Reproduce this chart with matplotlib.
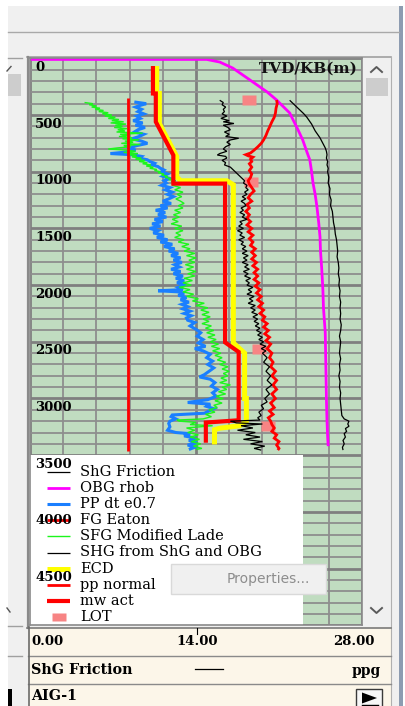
import matplotlib
matplotlib.use("Agg")
import matplotlib.pyplot as plt
import matplotlib.transforms as mtransforms
from matplotlib.patches import Rectangle, Polygon
from matplotlib.ticker import MultipleLocator

# ------------------------------------------------------------------ data
track_title = "TVD/KB(m)"
depth_ticks = [0, 500, 1000, 1500, 2000, 2500, 3000, 3500, 4000, 4500]
scale_ticks = [0.0, 14.0, 28.0]
scale_labels = ["0.00", "14.00", "28.00"]
curve_name = "ShG Friction"
curve_unit = "ppg"
well_name = "AIG-1"
menu_item = "Properties..."

pp_normal_depth = [350, 3460]
pp_normal_ppg = [8.3, 8.3]

mw_depth = [68, 310, 310, 560, 855, 1105, 1105, 2505, 2590, 3192, 3212, 3390]
mw_ppg = [10.37, 10.37, 10.61, 10.61, 12.09, 12.09, 16.45, 16.45, 17.6, 17.6, 14.83, 14.83]

ecd_depth = [68, 310, 310, 575, 865, 1045, 1080, 1080, 1115, 2510, 2600, 3000, 3000,
             3200, 3240, 3262, 3275, 3405]
ecd_ppg = [10.68, 10.68, 10.91, 10.91, 12.37, 12.37, 12.7, 16.6, 17.15, 17.15, 18.1, 18.1, 18.25,
           18.25, 17.7, 16.0, 15.56, 15.56]

obg_depth = [10, 10, 33, 86, 191, 297, 368, 482, 545, 630, 720, 810, 897, 1000, 1100, 1200,
             1311, 1450, 1576, 1700, 1850, 2037, 2200, 2416, 2700, 3007, 3200, 3333, 3420]
obg_ppg = [0.0, 14.9, 16.0, 17.1, 18.55, 20.0, 20.8, 21.9, 22.2, 22.6, 23.0, 23.3, 23.6, 23.75,
           23.87, 24.05, 24.2, 24.35, 24.46, 24.5, 24.6, 24.7, 24.75, 24.9, 24.95, 25.0, 25.05,
           25.1, 25.15]

shg_obg_depth = [370, 400, 430, 460, 490, 520, 550, 580, 610, 640, 670, 700, 730, 760, 790, 820,
                 850, 880, 910, 940, 970, 1000, 1050, 1100, 1150, 1200, 1250, 1300, 1350, 1400,
                 1450, 1500, 1550, 1600, 1650, 1700, 1750, 1800, 1850, 1900, 1950, 2000, 2050,
                 2100, 2150, 2200, 2250, 2300, 2350, 2400, 2450, 2500, 2550, 2600, 2650, 2700,
                 2750, 2800, 2850, 2900, 2950, 3000, 3050, 3100, 3150, 3180, 3200, 3225, 3245,
                 3265, 3290, 3310, 3340, 3370, 3400, 3430, 3455]
shg_obg_ppg = [21.9, 22.2, 22.5, 22.8, 23.1, 23.35, 23.55, 23.75, 23.9, 24.05, 24.25, 24.45,
               24.6, 24.75, 24.9, 25.0, 25.05, 25.0, 25.1, 25.05, 25.15, 25.1, 25.2, 25.15, 25.3,
               25.25, 25.4, 25.35, 25.5, 25.55, 25.6, 25.7, 25.75, 25.85, 25.9, 25.95, 25.9,
               26.0, 26.05, 26.0, 26.1, 26.05, 26.15, 26.1, 26.2, 26.15, 26.2, 26.15, 26.25,
               26.2, 26.1, 26.2, 26.15, 26.1, 26.2, 26.1, 26.15, 26.05, 26.15, 26.1, 26.2,
               26.15, 26.2, 26.25, 26.3, 26.5, 26.9, 26.8, 26.9, 26.6, 26.7, 26.5, 26.6, 26.4,
               26.5, 26.35, 26.4]

shg_friction_depth = [370, 390, 410, 430, 450, 470, 490, 510, 530, 550, 560, 575, 590, 610, 630,
                      650, 670, 690, 705, 720, 740, 760, 780, 800, 820, 840, 853, 865, 880, 900,
                      920, 940, 960, 980, 1000, 1020, 1040, 1060, 1080, 1100, 1120, 1140, 1160,
                      1180, 1200, 1220, 1240, 1260, 1280, 1300, 1320, 1340, 1360, 1380, 1400,
                      1420, 1440, 1460, 1480, 1500, 1520, 1540, 1560, 1580, 1600, 1620, 1640,
                      1660, 1680, 1700, 1720, 1740, 1760, 1780, 1800, 1820, 1840, 1860, 1880,
                      1900, 1920, 1940, 1960, 1980, 2000, 2020, 2040, 2060, 2080, 2100, 2120,
                      2140, 2160, 2180, 2200, 2220, 2240, 2260, 2280, 2300, 2320, 2340, 2360,
                      2380, 2400, 2420, 2440, 2460, 2480, 2500, 2520, 2540, 2560, 2580, 2600,
                      2640, 2680, 2720, 2760, 2800, 2840, 2880, 2920, 2960, 3000, 3030, 3060,
                      3090, 3120, 3150, 3170, 3190, 3200, 3215, 3225, 3240, 3260, 3280, 3300,
                      3320, 3340, 3360, 3380, 3400, 3420, 3440, 3455]
shg_friction_ppg = [16.0, 16.3, 16.2, 16.5, 16.3, 16.4, 16.2, 16.6, 16.1, 16.8, 16.3, 17.2, 16.3,
                    16.7, 16.9, 16.4, 16.8, 16.5, 17.6, 16.9, 16.6, 16.9, 16.5, 16.3, 16.6, 16.0,
                    15.8, 16.5, 16.6, 16.2, 16.5, 16.4, 16.9, 17.1, 17.3, 17.5, 17.7, 17.9, 18.1,
                    18.0, 18.3, 18.2, 18.4, 18.1, 18.3, 17.9, 18.2, 17.8, 18.1, 18.2, 17.8, 18.0,
                    17.7, 18.1, 17.9, 18.3, 17.7, 17.9, 17.6, 18.0, 17.5, 17.9, 17.7, 18.1, 17.6,
                    18.0, 17.8, 18.2, 17.9, 18.3, 17.9, 18.4, 18.0, 18.3, 17.9, 18.4, 18.1, 18.5,
                    18.0, 18.4, 18.1, 18.6, 18.2, 18.5, 18.3, 18.8, 18.4, 18.7, 18.3, 18.9, 18.5,
                    18.8, 18.4, 19.0, 18.6, 19.0, 18.7, 19.2, 18.8, 19.2, 18.9, 19.3, 19.0, 19.4,
                    19.1, 19.5, 19.2, 19.6, 19.3, 19.7, 19.4, 19.9, 19.5, 19.9, 19.6, 20.0, 19.7,
                    20.2, 19.9, 20.3, 20.0, 20.4, 19.9, 20.2, 19.8, 20.0, 19.5, 19.7, 19.3, 19.5,
                    19.2, 19.4, 16.9, 17.4, 19.6, 17.8, 18.8, 17.5, 19.0, 18.2, 19.4, 18.0, 19.6,
                    18.6, 19.8, 18.9, 19.5]

fg_eaton_depth = [368, 400, 440, 483, 520, 560, 607, 640, 680, 720, 750, 782, 810, 835, 850, 860,
                  872, 890, 910, 930, 960, 990, 1020, 1050, 1080, 1110, 1140, 1170, 1200, 1230,
                  1260, 1290, 1320, 1350, 1380, 1410, 1440, 1470, 1500, 1530, 1560, 1590, 1620,
                  1650, 1680, 1710, 1740, 1770, 1800, 1830, 1860, 1890, 1920, 1950, 1980, 2010,
                  2040, 2070, 2100, 2130, 2160, 2190, 2220, 2250, 2280, 2310, 2340, 2370, 2400,
                  2430, 2460, 2490, 2520, 2560, 2600, 2640, 2680, 2720, 2760, 2800, 2840, 2880,
                  2920, 2960, 3000, 3040, 3080, 3110, 3140, 3170, 3200, 3230, 3260, 3290, 3320,
                  3350, 3380, 3410, 3440, 3455]
fg_eaton_ppg = [20.8, 20.85, 20.75, 20.7, 20.6, 20.4, 20.2, 20.05, 19.9, 19.7, 19.5, 19.2, 18.9,
                18.6, 18.2, 18.4, 18.8, 18.6, 18.7, 18.5, 18.7, 18.5, 18.7, 18.6, 18.4, 18.5,
                18.7, 18.9, 18.6, 18.4, 18.7, 18.3, 18.5, 18.2, 18.5, 18.3, 18.6, 18.3, 18.7,
                18.4, 18.8, 18.5, 18.8, 18.6, 19.0, 18.7, 19.0, 18.7, 19.1, 18.8, 19.2, 18.9,
                19.2, 18.9, 19.3, 19.0, 19.4, 19.1, 19.5, 19.2, 19.6, 19.3, 19.7, 19.4, 19.8,
                19.6, 20.0, 19.7, 20.1, 19.8, 20.2, 19.9, 20.3, 20.0, 20.4, 20.2, 20.5, 20.3,
                20.7, 20.4, 20.8, 20.5, 20.8, 20.4, 20.7, 20.3, 20.6, 20.2, 20.5, 20.1, 20.3,
                20.4, 20.6, 20.4, 20.8, 20.6, 21.0, 20.8, 21.0, 20.9]

pp_dt_depth = [385, 400, 415, 430, 450, 470, 490, 510, 530, 550, 570, 590, 610, 630, 650, 670,
               690, 710, 730, 750, 770, 790, 810, 830, 840, 850, 865, 880, 895, 910, 925, 940,
               955, 970, 985, 1000, 1020, 1040, 1060, 1080, 1100, 1120, 1140, 1160, 1180, 1200,
               1220, 1240, 1260, 1280, 1300, 1320, 1340, 1360, 1380, 1400, 1420, 1440, 1460,
               1480, 1500, 1520, 1540, 1560, 1580, 1600, 1620, 1640, 1660, 1680, 1700, 1720,
               1740, 1760, 1780, 1800, 1820, 1840, 1860, 1880, 1900, 1920, 1940, 1960, 1980,
               2000, 2020, 2040, 2050, 2060, 2075, 2090, 2110, 2130, 2150, 2170, 2190, 2210,
               2230, 2250, 2270, 2290, 2310, 2330, 2360, 2390, 2420, 2450, 2480, 2510, 2540,
               2560, 2580, 2610, 2640, 2670, 2700, 2730, 2760, 2790, 2810, 2830, 2860, 2890,
               2920, 2950, 2980, 3010, 3035, 3050, 3070, 3090, 3110, 3130, 3145, 3160, 3180,
               3200, 3220, 3250, 3280, 3300, 3310, 3330, 3350, 3370, 3390, 3410, 3430, 3450]
pp_dt_ppg = [8.8, 9.8, 9.3, 8.9, 9.4, 9.1, 9.6, 9.0, 9.3, 8.7, 9.5, 8.9, 9.7, 9.1, 8.8, 9.6, 9.2,
             8.6, 9.4, 9.9, 9.0, 8.4, 8.9, 7.8, 6.8, 8.6, 9.4, 9.2, 9.9, 10.1, 10.5, 10.3, 10.8,
             11.0, 11.3, 11.1, 11.6, 11.2, 11.8, 11.3, 11.5, 11.1, 11.8, 11.4, 12.0, 11.6, 12.1,
             11.7, 11.2, 11.9, 11.0, 11.6, 10.6, 11.4, 10.8, 11.5, 10.5, 11.2, 10.3, 11.0, 10.1,
             10.8, 10.4, 11.3, 10.7, 11.6, 11.0, 12.0, 11.3, 12.2, 11.7, 12.5, 11.9, 12.7, 12.1,
             12.8, 12.2, 12.6, 11.9, 12.7, 12.1, 12.9, 12.3, 13.0, 12.4, 13.1, 12.5, 12.9, 10.8,
             12.6, 13.0, 12.5, 13.2, 12.7, 13.4, 12.8, 13.3, 12.9, 13.5, 13.0, 13.6, 13.2, 13.3,
             13.9, 13.5, 14.0, 14.4, 14.1, 14.6, 14.2, 14.8, 13.9, 14.6, 15.2, 14.9, 15.4, 15.0,
             15.5, 15.1, 14.7, 14.3, 15.2, 15.6, 15.3, 15.8, 15.4, 15.7, 15.0, 13.3, 15.2, 14.9,
             15.5, 15.1, 14.7, 12.0, 11.9, 12.3, 11.8, 11.7, 11.8, 11.6, 12.3, 13.5, 13.0, 14.0,
             13.4, 14.1, 13.3, 13.9, 13.4]

sfg_lade_depth = [390, 400, 410, 420, 430, 440, 450, 460, 470, 480, 490, 500, 510, 520, 530, 540,
                  550, 560, 570, 580, 590, 600, 610, 620, 630, 640, 650, 660, 670, 680, 690, 700,
                  710, 720, 730, 740, 750, 760, 770, 780, 790, 800, 810, 820, 830, 840, 850, 860,
                  870, 880, 890, 900, 910, 920, 930, 940, 950, 960, 970, 980, 990, 1000, 1010,
                  1020, 1030, 1040, 1050, 1060, 1070, 1080, 1090, 1100, 1120, 1140, 1160, 1180,
                  1200, 1220, 1240, 1260, 1280, 1300, 1320, 1340, 1360, 1380, 1400, 1420, 1440,
                  1460, 1480, 1500, 1520, 1540, 1560, 1580, 1600, 1620, 1640, 1660, 1680, 1700,
                  1720, 1740, 1760, 1780, 1800, 1820, 1840, 1860, 1880, 1900, 1920, 1940, 1960,
                  1980, 2000, 2020, 2040, 2060, 2080, 2100, 2120, 2140, 2160, 2180, 2200, 2220,
                  2240, 2260, 2280, 2300, 2320, 2340, 2360, 2380, 2400, 2420, 2440, 2460, 2480,
                  2500, 2520, 2540, 2560, 2580, 2600, 2620, 2640, 2660, 2680, 2700, 2720, 2740,
                  2760, 2780, 2800, 2820, 2840, 2860, 2880, 2900, 2920, 2940, 2960, 2980, 3000,
                  3020, 3040, 3060, 3080, 3100, 3120, 3140, 3160, 3180, 3190, 3200, 3210, 3230,
                  3240, 3260, 3280, 3300, 3320, 3340, 3360, 3380, 3400, 3420, 3440, 3450]
sfg_lade_ppg = [4.6, 5.3, 5.0, 5.6, 5.2, 5.9, 5.5, 6.2, 5.8, 6.6, 6.1, 6.9, 6.3, 7.2, 6.6, 7.5,
                6.9, 7.9, 6.8, 8.1, 7.2, 7.8, 7.1, 8.2, 7.4, 8.0, 7.3, 9.5, 7.6, 8.3, 7.5, 8.6,
                7.8, 9.2, 8.0, 8.7, 7.7, 9.3, 7.9, 8.5, 7.4, 6.6, 8.2, 8.9, 7.9, 9.1, 8.3, 9.0,
                8.6, 9.4, 8.9, 9.7, 9.2, 9.9, 9.5, 10.2, 9.8, 10.4, 10.1, 10.7, 10.5, 11.0, 10.8,
                11.3, 11.1, 11.6, 11.4, 11.9, 11.7, 12.3, 11.9, 12.4, 12.0, 12.7, 12.2, 12.9,
                12.4, 12.8, 12.3, 12.7, 13.0, 12.5, 12.9, 12.2, 12.7, 12.1, 12.6, 12.0, 12.5,
                11.9, 12.8, 12.2, 12.9, 12.3, 12.7, 12.2, 13.0, 12.5, 13.4, 12.8, 13.5, 13.0,
                13.9, 13.2, 14.0, 13.4, 13.9, 13.1, 13.8, 13.2, 14.0, 13.3, 13.9, 13.0, 13.7,
                12.9, 13.6, 12.6, 13.5, 12.9, 13.8, 13.2, 14.2, 13.7, 14.7, 14.0, 15.0, 14.4,
                15.1, 14.5, 15.2, 14.6, 15.1, 14.5, 15.3, 14.8, 15.5, 14.9, 15.6, 15.0, 15.7,
                15.2, 15.9, 15.3, 16.0, 15.4, 16.1, 15.6, 16.2, 15.8, 16.5, 16.0, 16.7, 16.2,
                16.8, 16.3, 16.7, 16.1, 16.6, 16.0, 16.9, 16.2, 16.6, 15.9, 16.5, 15.7, 16.3,
                15.6, 16.2, 15.5, 15.8, 15.1, 15.6, 14.8, 15.3, 14.6, 12.4, 12.6, 14.0, 13.5,
                15.4, 13.2, 13.9, 13.3, 14.2, 13.5, 14.3, 13.6, 14.4, 13.8, 14.5, 14.0]

lot_depth = [364, 1095, 2565, 3240]
lot_ppg = [18.45, 18.65, 19.3, 20.1]

legend_labels = ["ShG Friction", "OBG rhob", "PP dt e0.7", "FG Eaton", "SFG Modified Lade",
                 "SHG from ShG and OBG", "ECD", "pp normal", "mw act", "LOT"]

# ------------------------------------------------------------------ styles
STYLE = {
    "ShG Friction": dict(color="#000000", lw=0.9, zorder=7),
    "OBG rhob": dict(color="#ff00ff", lw=2.0, zorder=4),
    "PP dt e0.7": dict(color="#1a7fff", lw=2.2, zorder=3),
    "FG Eaton": dict(color="#ff0000", lw=2.0, zorder=6),
    "SFG Modified Lade": dict(color="#1cf51c", lw=1.0, zorder=4),
    "SHG from ShG and OBG": dict(color="#000000", lw=0.9, zorder=5),
    "ECD": dict(color="#ffff00", lw=3.6, zorder=5),
    "pp normal": dict(color="#ff0000", lw=2.0, zorder=5),
    "mw act": dict(color="#ff0000", lw=3.0, zorder=6),
}
LOT_COLOR = "#f78484"
LOT_MARKER = [(-1, -0.64), (1, -0.64), (1, 0.64), (-1, 0.64), (-1, -0.64)]

SERIF = "DejaVu Serif"
SANS = "DejaVu Sans"
PANEL_BG = "#f0f0f0"
TRACK_BG = "#c0dcc0"
STRIP_BG = "#fcf6e9"

W, H = 406, 706
AX_L, AX_R, AX_T, AX_B = 30.0, 362.0, 58.3, 625.3


def to_axes(x, y):
    """pixel position -> axes fraction of the track"""
    return (x - AX_L) / (AX_R - AX_L), (AX_B - y) / (AX_B - AX_T)


fig = plt.figure(figsize=(W / 100, H / 100), dpi=100)
fig.patch.set_facecolor(PANEL_BG)

# ------------------------------------------------------------ window chrome
ui = fig.add_axes([0, 0, 1, 1], zorder=0)
ui.set_xlim(0, W)
ui.set_ylim(H, 0)
ui.axis("off")

ui.add_patch(Rectangle((0, 0), W, 6, fc="white", ec="none"))
ui.add_patch(Rectangle((0, 0), 8, H, fc="white", ec="none"))
ui.add_patch(Rectangle((403, 0), 3, H, fc="white", ec="none"))
ui.add_patch(Rectangle((399, 6), 4, H - 6, fc="#8d9cb1", ec="none"))
ui.plot([8, 399], [31.5, 31.5], color="#a9a9a9", lw=1.0)

# left pane
ui.plot([8, 22], [57.5, 57.5], color="#a0a0a0", lw=1.0)
ui.add_patch(Rectangle((8, 74), 13, 22, fc="#cdcdcd", ec="none"))
ui.plot([7, 11], [71, 66.5], color="#555555", lw=1.0)
ui.plot([7, 10], [608, 612], color="#555555", lw=1.0)
ui.plot([8, 22], [625.5, 625.5], color="#a0a0a0", lw=1.0)
ui.plot([8, 22], [655.5, 655.5], color="#a0a0a0", lw=1.0)
ui.add_patch(Rectangle((8, 689), 4, 17, fc="black", ec="none"))

# track frame + scrollbar
ui.plot([27, 391], [57.3, 57.3], color="#a0a0a0", lw=1.2)
ui.plot([28, 28], [57, 628], color="#8a8a8a", lw=1.6)
ui.plot([391, 391], [57, 706], color="#b0b0b0", lw=0.8)
ui.add_patch(Rectangle((366, 78), 22, 18, fc="#cdcdcd", ec="none"))
ui.plot([371, 376.5, 382], [72, 67, 72], color="#5a5a5a", lw=1.4)
ui.plot([371, 376.5, 382], [608, 613, 608], color="#5a5a5a", lw=1.4)

# bottom header strip
ui.add_patch(Rectangle((28, 627), 363, H - 627, fc=STRIP_BG, ec="none"))
ui.plot([27, 391], [627.5, 627.5], color="#7a7a7a", lw=1.2)
ui.plot([28, 391], [655.5, 655.5], color="#8a8a8a", lw=1.0)
ui.plot([28, 391], [683.5, 683.5], color="#8a8a8a", lw=1.0)
ui.plot([29, 29], [627, H], color="#6a6a6a", lw=1.2)
ui.plot([197, 197], [628, 634], color="black", lw=0.8)

scale_px = [31, 197, 375]
scale_ha = ["left", "center", "right"]
for xp, lab, ha in zip(scale_px, scale_labels, scale_ha):
    ui.text(xp, 641.5, lab, ha=ha, va="center", family=SERIF, fontweight="bold",
            fontsize=9.5, color="black")
ui.text(31, 669.5, curve_name, ha="left", va="center", family=SERIF, fontweight="bold",
        fontsize=10.3, color="black")
ui.plot([195, 223], [669, 669], color="black", lw=0.9)
ui.text(381, 670.5, curve_unit, ha="right", va="center", family=SERIF, fontweight="bold",
        fontsize=10, color="black")
ui.text(31, 696.5, well_name, ha="left", va="center", family=SERIF, fontweight="bold",
        fontsize=10.3, color="black")
ui.add_patch(Rectangle((356, 689), 26, 18, fc="#f7f7f7", ec="#3a3a3a", lw=1.0))
ui.add_patch(Polygon([(362, 692.5), (377, 698), (362, 703.5)], closed=True, fc="black",
                     ec="none"))
ui.plot([362, 378], [704.5, 704.5], color="black", lw=1.0)

# ------------------------------------------------------------------ track
ax = fig.add_axes([AX_L / W, 1 - AX_B / H, (AX_R - AX_L) / W, (AX_B - AX_T) / H], zorder=1)
ax.set_facecolor(TRACK_BG)
ax.set_xlim(scale_ticks[0], scale_ticks[-1])
ax.set_ylim(5000, 0)
ax.xaxis.set_major_locator(MultipleLocator(14))
ax.xaxis.set_minor_locator(MultipleLocator(2.8))
ax.yaxis.set_major_locator(MultipleLocator(500))
ax.yaxis.set_minor_locator(MultipleLocator(100))
ax.grid(which="minor", color="#8e8e8e", lw=1.3)
ax.grid(which="major", color="#7f7f7f", lw=2.0)
ax.set_axisbelow(True)
ax.tick_params(which="both", length=0, labelbottom=False, labelleft=False)
for sp in ax.spines.values():
    sp.set_color("#8a8a8a")
    sp.set_linewidth(1.2)
    sp.set_zorder(60)

series = [
    ("pp normal", pp_normal_depth, pp_normal_ppg),
    ("PP dt e0.7", pp_dt_depth, pp_dt_ppg),
    ("SFG Modified Lade", sfg_lade_depth, sfg_lade_ppg),
    ("OBG rhob", obg_depth, obg_ppg),
    ("SHG from ShG and OBG", shg_obg_depth, shg_obg_ppg),
    ("ECD", ecd_depth, ecd_ppg),
    ("mw act", mw_depth, mw_ppg),
    ("FG Eaton", fg_eaton_depth, fg_eaton_ppg),
    ("ShG Friction", shg_friction_depth, shg_friction_ppg),
]
for name, dep, val in series:
    st = STYLE[name]
    ax.plot(val, dep, color=st["color"], lw=st["lw"], zorder=st["zorder"],
            solid_joinstyle="miter", solid_capstyle="butt")

ax.plot(lot_ppg, lot_depth, ls="none", marker=LOT_MARKER, ms=10.2, mfc=LOT_COLOR,
        mec="none", zorder=2.5)

ax.text(*to_axes(358, 61.5), track_title, transform=ax.transAxes, ha="right", va="top",
        family=SERIF, fontweight="bold", fontsize=11, color="#111111", zorder=30)

# legend panel over the lower part of the track
lx0, ly0 = to_axes(AX_L, AX_B)
lx1, ly1 = to_axes(303, 455)
ax.add_patch(Rectangle((lx0, ly0), lx1 - lx0, ly1 - ly0, transform=ax.transAxes,
                       fc="white", ec="none", zorder=20))
for i, name in enumerate(legend_labels):
    yp = 471.5 + 16.2 * i
    _, ya = to_axes(0, yp)
    if name == "LOT":
        xa, _ = to_axes(58.5, 0)
        ax.plot([xa], [ya], transform=ax.transAxes, ls="none", marker=LOT_MARKER, ms=10,
                mfc=LOT_COLOR, mec="none", zorder=21)
    else:
        st = STYLE[name]
        xa0, _ = to_axes(47, 0)
        xa1, _ = to_axes(70, 0)
        ax.plot([xa0, xa1], [ya, ya], transform=ax.transAxes, color=st["color"],
                lw=st["lw"], solid_capstyle="butt", zorder=21)
    tx, _ = to_axes(80, 0)
    ax.text(tx, ya, name, transform=ax.transAxes, ha="left", va="center", family=SERIF,
            fontsize=10.5, color="black", zorder=22)

# depth annotations, drawn on top of everything in the track
lab_trans = mtransforms.offset_copy(
    mtransforms.blended_transform_factory(ax.transAxes, ax.transData),
    fig=fig, x=0, y=-2.5, units="dots")
xlab, _ = to_axes(35, 0)
for d in depth_ticks:
    ax.text(xlab, d, str(d), transform=lab_trans, ha="left", va="top", family=SERIF,
            fontweight="bold", fontsize=9.5, color="black", zorder=35)

# context menu entry
mx0, my0 = to_axes(171, 594)
mx1, my1 = to_axes(326, 564)
ax.add_patch(Rectangle((mx0, my0), mx1 - mx0, my1 - my0, transform=ax.transAxes,
                       fc="#f0f0f0", ec="#d9d9d9", lw=1.0, zorder=40, clip_on=False))
ax.text(*to_axes(227, 578.5), menu_item, transform=ax.transAxes, ha="left", va="center",
        family=SANS, fontsize=10, color="#8d8d8d", zorder=41, clip_on=False)

fig.savefig("out.png", dpi=100, facecolor=fig.get_facecolor())
